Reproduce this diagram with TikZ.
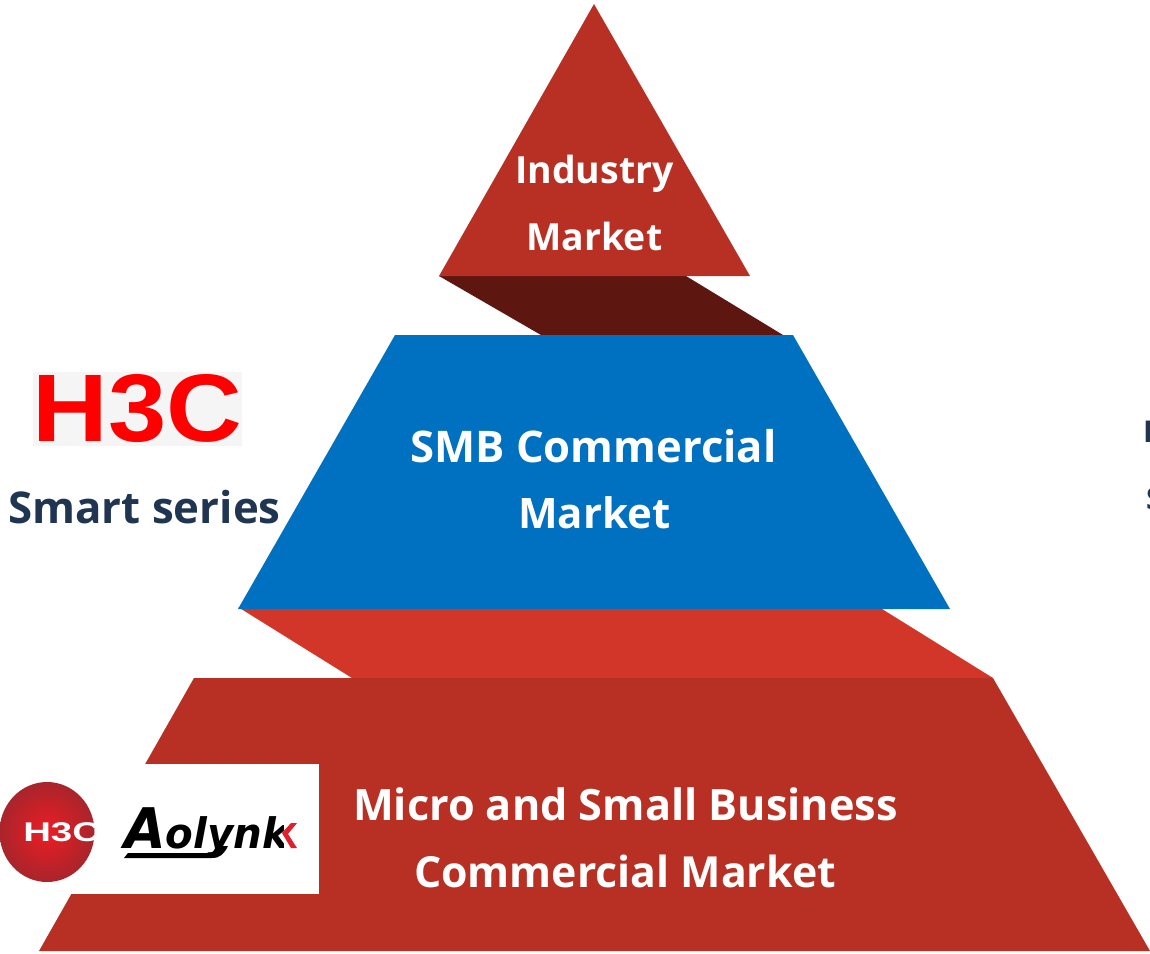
\documentclass[tikz,border=0pt]{standalone}
\usepackage{fontspec}
\setmainfont{Open Sans}
\newfontfamily\logofont{Liberation Sans}
\newfontfamily\aofont{DejaVu Sans}
\definecolor{brick}{HTML}{B83023}
\definecolor{darkbrick}{HTML}{5E1710}
\definecolor{midred}{HTML}{D13628}
\definecolor{blueband}{HTML}{0070C0}
\definecolor{navy}{HTML}{1F3552}
\definecolor{logored}{HTML}{FF0000}
\definecolor{spherein}{HTML}{ED1C24}
\definecolor{sphereout}{HTML}{A8252B}
\definecolor{aored}{HTML}{E0202A}
\tikzset{
  band/.style={draw=none},
  whitetext/.style={text=white,font=\bfseries\fontsize{43.4}{43.4}\selectfont,inner sep=0pt,anchor=center},
  smalltext/.style={text=white,font=\bfseries\fontsize{37.4}{37.4}\selectfont,inner sep=0pt,anchor=center},
  navytext/.style={text=navy,font=\bfseries\fontsize{43.8}{43.8}\selectfont,inner sep=0pt,anchor=center},
  edgetext/.style={text=navy,font=\bfseries\fontsize{30}{30}\selectfont,inner sep=0pt,anchor=west},
}
\begin{document}
\begin{tikzpicture}[x=1pt,y=-1pt]
\useasboundingbox (0,0) rectangle (1150,953);
\clip (0,0) rectangle (1150,953);
% pyramid
\fill[band,darkbrick] (439,276) -- (686,276) -- (783,335) -- (541,335) -- cycle;
\fill[band,brick] (594,4) -- (750,276) -- (439,276) -- cycle;
\fill[band,midred] (238,607) -- (882,609) -- (993,678) -- (352,678) -- cycle;
\fill[band,blueband] (395,335) -- (793,335) -- (950,609) -- (238,609) -- cycle;
\fill[band,brick] (194,678) -- (993,678) -- (1150,951) -- (39,951) -- cycle;
% labels
\node[smalltext] (ind) at (594.5,174) {Industry};
\node[smalltext] (mkt) at (594.5,236) {Market};
\node[whitetext,font=\bfseries\fontsize{43.6}{43.6}\selectfont] (smb) at (593.5,446) {SMB Commercial};
\node[whitetext,font=\bfseries\fontsize{42}{42}\selectfont] (smb2) at (594.5,513) {Market};
\node[whitetext,font=\bfseries\fontsize{43.2}{43.2}\selectfont] (micro) at (625.5,804) {Micro and Small Business};
\node[whitetext,font=\bfseries\fontsize{42.8}{42.8}\selectfont] (comm) at (625,871) {Commercial Market};
\node[navytext] (smart) at (144.5,507) {Smart series};
% H3C logo
\fill[black!4] (33,372) rectangle (242,446);
\node[inner sep=0pt,text=logored,font=\logofont\bfseries\fontsize{80}{80}\selectfont,xscale=1.31,yscale=1.2] (h3c) at (137.5,409) {H3C};
% off-page text at right edge
\node[edgetext] (cutH) at (1143,432) {I};
\node[edgetext] (cutS) at (1146,499) {S};
% white logo panel
\fill[white] (0,764) rectangle (319,894);
\shade[inner color=spherein,outer color=sphereout] (47,832) ellipse (47.5 and 50);
\begin{scope}
\clip (0,770) rectangle (94.5,890);
\node[inner sep=0pt,text=white,font=\logofont\bfseries\fontsize{27}{27}\selectfont,xscale=1.42,anchor=west] (h3cw) at (23,832) {H3C};
\end{scope}
% Aolynk logo
\begin{scope}
\clip (100,790) rectangle (283,870);
\node[inner sep=0pt,font=\aofont\bfseries\itshape\fontsize{42}{42}\selectfont,xscale=0.96,anchor=base west] (ao) at (124,848) {{\fontsize{56}{56}\selectfont A}olynk};
\end{scope}
\fill[black] (135,853) -- (212,853) .. controls (218,853) and (220,850) .. (222,846) -- (228,846) .. controls (224,854) and (220,858) .. (212,858) -- (124,858) -- (128,853) -- cycle;
\fill[aored] (282,833) -- (291,823) -- (297,823) -- (288,834) -- (297,848) -- (291,848) -- cycle;
\end{tikzpicture}
\end{document}
